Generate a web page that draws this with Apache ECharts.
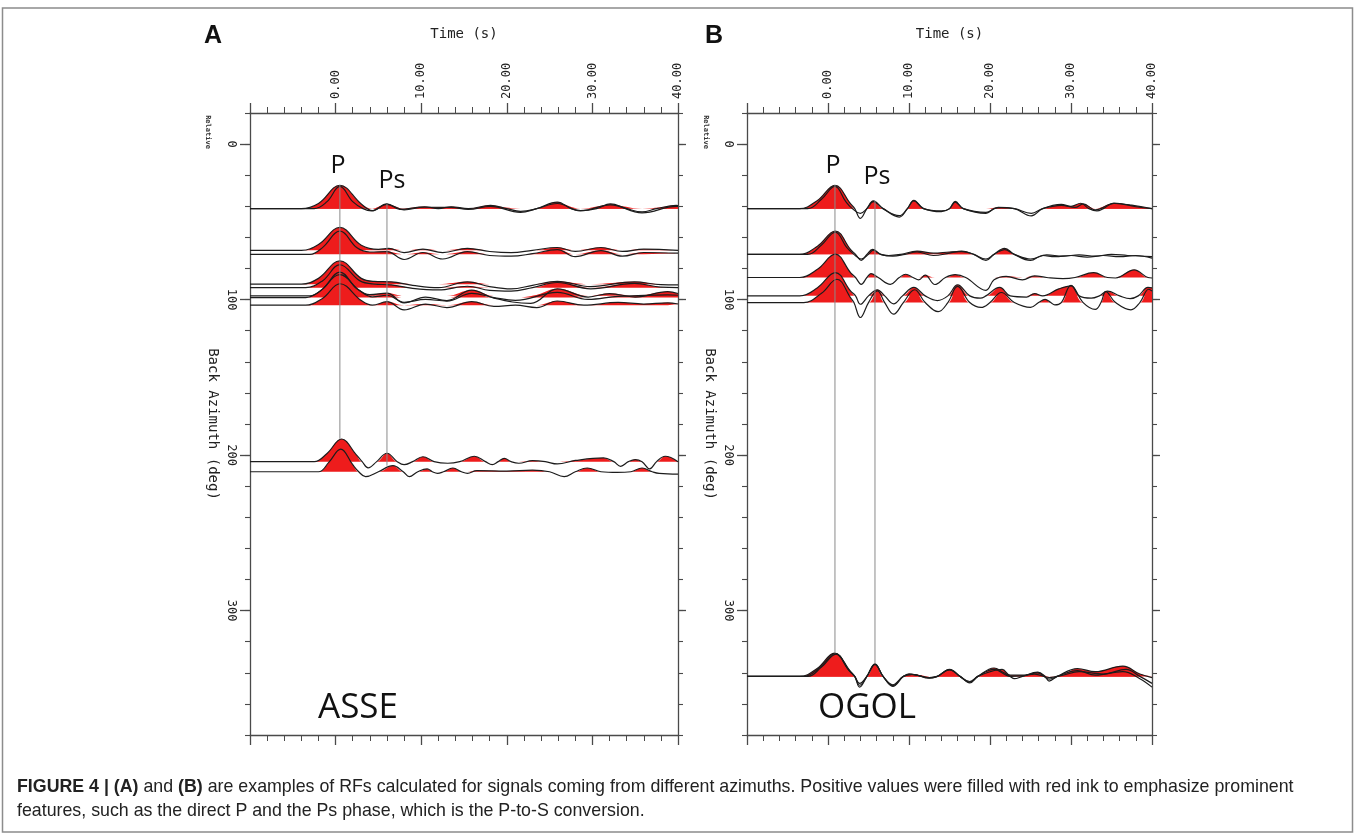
<!DOCTYPE html>
<html>
<head>
<meta charset="utf-8">
<script src="https://cdn.jsdelivr.net/npm/echarts@6/dist/echarts.min.js"></script>
<style>
  html, body { margin: 0; background: #fff; }
  #chart { width: 1355px; height: 837px; }
</style>
</head>
<body>
<div id="chart"></div>
<script>
// tick labels
const timeTicks = [0, 10, 20, 30, 40];
const bazTicks = [0, 100, 200, 300];

// ASSE: back azimuth of each trace (deg) and the traces as [time s, relative amplitude]
const asseBaz = [41.5, 41.5, 68.3, 70.9, 90.1, 92.3, 97.6, 98.7, 103.6, 204.2, 210.7];
const asse1 = [[-10,0],[-4,0],[-2,0.22],[0.5,1.0],[3,0.2],[4.3,-0.08],[6,0.2],[7.5,-0.03],[10.4,0.08],[12,0],[13.5,0.08],[15.5,0],[18.1,0.14],[20,0],[21.6,-0.12],[23.5,0],[25.9,0.28],[27.5,0],[28.6,-0.08],[30.5,0],[32.1,0.2],[34,0],[35.8,-0.14],[37.5,0],[39.8,0.14],[40,0.13]];
const asse2 = [[-10,0],[-2.5,0],[-1,0.3],[0.5,0.95],[2,0.3],[3.2,0],[4.2,-0.1],[6,0.18],[8,-0.05],[10.4,0.06],[13.5,0.05],[15.5,-0.03],[18.1,0.1],[21.6,-0.16],[23.5,0],[25.9,0.22],[28.6,-0.1],[32.1,0.16],[35.8,-0.18],[39.8,0.1],[40,0.1]];
const asse3 = [[-10,0],[-4,0],[-2,0.25],[0.5,0.98],[3,0.22],[5,0.04],[6.2,0.08],[8,-0.1],[10.2,0.05],[12.5,-0.1],[15.4,0.08],[18,-0.05],[20.5,-0.1],[23,0],[25.9,0.12],[28,-0.05],[31,0.12],[33.5,-0.05],[36,0.05],[40,0]];
const asse4 = [[-10,0],[-3,0],[-1.5,0.3],[0.5,1.0],[2.5,0.28],[4,0.1],[6,0.12],[8,-0.22],[10.2,0.08],[12.5,-0.2],[15.4,0.12],[18,-0.05],[20.5,-0.08],[23,0.03],[25.9,0.2],[28,-0.1],[31,0.16],[33.5,-0.08],[36,0.08],[40,0.05]];
const asse5 = [[-10,0],[-4,0],[-2,0.25],[0.5,1.0],[3,0.25],[4.5,0.12],[6.5,0.1],[9,-0.05],[12,-0.15],[15.4,0.1],[18,-0.1],[20.5,-0.2],[23,-0.05],[25.9,0.12],[29.8,-0.1],[34.9,0.1],[38,-0.02],[40,-0.03]];
const asse6 = [[-10,0],[-3.5,0],[-1.5,0.3],[0.5,0.98],[2.8,0.3],[4.5,0.15],[6.5,0.12],[9,-0.03],[12,-0.1],[15.4,0.06],[18,-0.12],[20.5,-0.15],[23,0],[25.9,0.22],[29.8,-0.05],[34.9,0.18],[38,0.02],[40,0]];
const asse7 = [[-10,0],[-3,0],[-1.5,0.3],[0.5,1.02],[2.5,0.3],[4,0.05],[6,0.12],[8,-0.3],[10.5,-0.05],[13,-0.2],[15.9,0.25],[18.5,-0.1],[22.8,-0.32],[25.9,0.3],[29.5,-0.05],[32,0.1],[35,-0.05],[38.8,0.18],[40,0.1]];
const asse8 = [[-10,0],[-3.5,0],[-1.8,0.28],[0.5,0.98],[2.8,0.3],[4.3,0.03],[6,0.1],[8,-0.2],[10.5,-0.08],[13,-0.15],[15.9,0.18],[18.5,0],[21,-0.12],[25.9,0.22],[29.5,-0.08],[33,0.05],[38.8,0.12],[40,0.1]];
const asse9 = [[-10,0],[-3.5,0],[-1.5,0.3],[0.5,0.92],[3,0.2],[4.3,0],[6,0.15],[8,-0.2],[10.5,0.05],[13,-0.1],[15.9,0.15],[18.5,-0.05],[21,0],[23.5,-0.1],[25.9,0.18],[29,0],[33,0.12],[36,0.05],[38.8,0.1],[40,0.05]];
const asse10 = [[-10,0],[-2.5,0],[-1,0.35],[0.7,0.97],[2.4,0.3],[3.1,0],[3.8,-0.27],[4.8,0],[6,0.36],[7.2,0],[8,-0.13],[9,0],[10.2,0.21],[11.5,0],[13.1,-0.07],[14.5,0],[16.2,0.23],[17.5,0],[18.3,-0.13],[19,0],[19.7,0.14],[20.5,0],[21.4,-0.07],[23,0.04],[24.5,0],[25.9,-0.1],[28,0.05],[31.3,0.16],[32.5,0],[33.3,-0.2],[34.2,0],[35,0.09],[35.8,0],[36.7,-0.31],[37.5,0],[38.5,0.23],[40,0]];
const asse11 = [[-10,0],[-2,0],[-0.8,0.4],[0.6,0.97],[2,0.3],[2.7,0],[3.5,-0.21],[5,0],[6.7,0.26],[7.9,0],[8.6,-0.21],[9.6,0],[10.7,0.12],[11.3,0],[11.9,-0.07],[12.6,0],[13.7,0.16],[14.7,0],[15.4,-0.07],[16.5,0.05],[20,0.03],[23,0.07],[25,0],[26.7,-0.21],[28,0],[29.4,0.16],[31,0],[32.9,-0.03],[34.5,0],[35.8,0.16],[37,0],[37.8,-0.07],[40,-0.1]];
const asseTraces = [asse1, asse2, asse3, asse4, asse5, asse6, asse7, asse8, asse9, asse10, asse11];

// OGOL
const ogolBaz = [41.5, 41.5, 70.9, 70.9, 85.8, 97.6, 101.9, 342.3, 342.3, 342.3];
const ogol1 = [[-10,0],[-3.5,0],[-1.3,0.35],[0.86,1.0],[2.8,0.2],[3.3,0],[4,-0.42],[4.8,0],[5.6,0.33],[6.8,0],[8.8,-0.36],[9.8,0],[10.6,0.36],[11.8,0],[14,-0.13],[15,0],[15.7,0.31],[16.7,0],[19.5,-0.2],[20.5,0],[21.4,0.04],[23,0],[25.1,-0.31],[26.5,0],[28.8,0.18],[30,0.1],[31.2,0.23],[32.2,0],[33.2,-0.1],[34,0],[35.3,0.24],[38,0.08],[40,0]];
const ogol2 = [[-10,0],[-2.5,0],[-0.8,0.4],[0.86,0.95],[2.2,0.3],[3,0],[4,-0.2],[4.8,0],[5.6,0.3],[6.8,0],[8.8,-0.3],[9.8,0],[10.6,0.33],[11.8,0],[14,-0.1],[15,0],[15.7,0.28],[16.7,0],[19.5,-0.16],[21,0.05],[23,0],[25.1,-0.2],[26.5,0],[28.8,0.14],[30.5,0.05],[31.5,0.2],[33,-0.05],[35.3,0.22],[37.5,0.15],[40,0]];
const ogol3 = [[-10,0],[-3.5,0],[-1.3,0.35],[0.9,1.0],[2.8,0.2],[3.4,0],[4.1,-0.26],[4.8,0],[5.5,0.21],[6.5,0],[7.5,-0.05],[9,0],[11,0.14],[13,0.05],[15,0.1],[16.5,0.12],[18,0],[19.5,-0.26],[20.5,0],[21.8,0.26],[23,0],[25,-0.26],[26.5,-0.05],[28,-0.1],[30,-0.05],[32,-0.12],[34,-0.05],[36,-0.1],[38,-0.05],[40,-0.16]];
const ogol4 = [[-10,0],[-2.5,0],[-0.8,0.4],[0.9,0.95],[2.3,0.3],[3.2,0],[4.1,-0.2],[5,0],[5.6,0.18],[6.5,0],[8,-0.08],[9.5,0],[11,0.1],[13,-0.05],[15,0.05],[16.5,0.14],[18,0],[19.5,-0.2],[20.5,0],[21.8,0.2],[23,0],[25,-0.2],[27,-0.02],[29,-0.08],[31,-0.02],[33,-0.08],[35,0],[37,-0.05],[40,-0.1]];
const ogol5 = [[-10,0],[-3.5,0],[-1.3,0.35],[0.9,1.0],[2.8,0.2],[3.4,0],[4.1,-0.29],[4.8,0],[5.3,0.17],[6.2,0],[7.7,-0.29],[8.8,0],[9.6,0.14],[10.5,0],[11.2,-0.1],[12,0.1],[13.2,-0.3],[14.5,0],[15.7,0.12],[17,0],[19.5,-0.55],[20.5,-0.1],[22,0.05],[24,-0.1],[25.5,0.07],[27,0],[29,-0.05],[30.5,0],[32.8,0.21],[34.5,0],[35.5,-0.02],[37.8,0.33],[39.5,0],[40,-0.02]];
const ogol6 = [[-10,0],[-3.5,0],[-1.3,0.35],[0.9,1.0],[2.8,0.2],[3.4,0],[4,-0.36],[5,0],[6.1,0.26],[7,0],[8.1,-0.34],[9.2,0],[10.6,0.36],[12,0],[13.5,-0.2],[14.8,0],[16,0.47],[17.5,0],[18.8,-0.1],[19.5,0],[21.2,0.36],[22.5,0],[24.5,-0.05],[25.5,0.1],[26.5,0],[28.5,0.3],[30,0.43],[31,0],[32.5,-0.1],[33.5,0],[34.5,0.2],[36,0],[37.3,-0.12],[38.3,0],[39.5,0.36],[40,0.34]];
const ogol7 = [[-10,0],[-3,0],[-0.8,0.4],[1.1,1.0],[2.8,0.2],[3.2,0],[4,-0.64],[5,0],[6.1,0.5],[7,0],[8.1,-0.5],[9.3,0],[10.7,0.55],[12,0],[13.6,-0.39],[14.8,0],[16,0.69],[17.5,0],[18.9,-0.21],[20,0],[21.4,0.43],[23,0],[25,-0.21],[26,0],[26.8,0.14],[27.5,0],[28,-0.1],[28.8,0],[30,0.74],[31.5,0],[33,-0.29],[33.7,0],[34.3,0.47],[35.5,0],[37.4,-0.31],[38.5,0],[39.6,0.57],[40,0.5]];
const ogol8 = [[-10,0],[-3.5,0],[-1.3,0.35],[0.8,1.0],[2.8,0.2],[3.3,0],[3.9,-0.46],[4.8,0],[5.8,0.54],[6.8,0],[8,-0.43],[9.3,0],[10,0.11],[11,0.05],[12.5,-0.05],[13.5,0],[15,0.3],[16.3,0],[17.5,-0.28],[18.5,0],[20.5,0.36],[21.5,0.2],[22.5,0],[23,-0.1],[24,0],[25.9,0.18],[26.8,0],[27.3,-0.2],[28.3,0],[30.8,0.33],[33,0.2],[36.4,0.44],[38.5,0.1],[40,-0.05]];
const ogol9 = [[-10,0],[-2.5,0],[-0.8,0.4],[1,0.95],[2.5,0.3],[3.3,0],[3.9,-0.3],[4.8,0],[5.8,0.5],[6.8,0],[8,-0.36],[9.3,0],[10.5,0.08],[12.5,-0.08],[13.5,0],[15,0.28],[16.3,0],[17.5,-0.22],[18.5,0],[20,0.2],[21.5,0.3],[22.5,0.05],[24,0.05],[25.5,0.1],[27.3,-0.05],[29,0.05],[31,0.2],[34,0.1],[36.8,0.3],[38.5,0],[40,-0.3]];
const ogol10 = [[-10,0],[-3,0],[-1,0.38],[0.9,0.98],[2.6,0.25],[3.3,0],[3.9,-0.38],[4.8,0],[5.8,0.52],[6.8,0],[8,-0.4],[9.3,0],[10.3,0.09],[12.5,-0.06],[13.5,0],[15,0.29],[16.3,0],[17.5,-0.25],[18.5,0],[20.5,0.3],[22.5,0],[24,0.02],[25.9,0.15],[27.3,-0.12],[28.3,0],[30.8,0.25],[33,0.05],[36.4,0.2],[38.5,-0.1],[40,-0.46]];
const ogolTraces = [ogol1, ogol2, ogol3, ogol4, ogol5, ogol6, ogol7, ogol8, ogol9, ogol10];

// P and Ps phase lines: [time, baz from], [time, baz to]
const asseP = [[0.5, 26.3], [0.5, 189.5]];
const assePs = [[6.0, 38.5], [6.0, 206.8]];
const ogolP = [[0.86, 26.3], [0.86, 327.5]];
const ogolPs = [[5.8, 36.6], [5.8, 334]];

const AMP = 15; // deg per unit of relative amplitude

const frame = '#4a4a4a';
const mono = 'DejaVu Sans Mono';

function xAxes(gi) {
  const base = {
    type: 'value', gridIndex: gi, min: -10, max: 40, interval: 10,
    axisLine: { show: true, onZero: false, lineStyle: { color: frame, width: 1.3 } },
    axisTick: { show: true, inside: false, length: 10, lineStyle: { color: frame, width: 1.3 } },
    minorTick: { show: true, splitNumber: 5, length: 6, lineStyle: { color: frame, width: 1 } },
    splitLine: { show: false }
  };
  return [
    Object.assign({}, base, {
      position: 'top',
      axisLabel: {
        rotate: -90, margin: 14, fontFamily: mono, fontSize: 12, color: '#222',
        formatter: v => timeTicks.includes(v) ? v.toFixed(2) : ''
      },
      name: 'Time (s)', nameLocation: 'middle', nameGap: 72,
      nameTextStyle: { fontFamily: mono, fontSize: 14, color: '#222' }
    }),
    Object.assign({}, base, { position: 'bottom', axisLabel: { show: false } })
  ];
}

function yAxes(gi) {
  const base = {
    type: 'value', gridIndex: gi, min: -20, max: 380, inverse: true,
    splitLine: { show: false }
  };
  const minor = Object.assign({}, base, {
    interval: 20,
    axisLine: { show: true, onZero: false, lineStyle: { color: frame, width: 1.3 } },
    axisTick: { show: true, inside: false, length: 5, lineStyle: { color: frame, width: 1.1 } },
    axisLabel: { show: false }
  });
  const major = Object.assign({}, base, {
    axisLine: { show: false, onZero: false },
    axisTick: { show: true, inside: false, length: 10, customValues: bazTicks, lineStyle: { color: frame, width: 1.3 } },
    axisLabel: { show: false }
  });
  return [
    Object.assign({}, minor, { position: 'left' }),
    Object.assign({}, major, {
      position: 'left',
      axisLabel: { show: true, customValues: bazTicks, rotate: -90, margin: 13, fontFamily: mono, fontSize: 12, color: '#222' },
      name: 'Back Azimuth (deg)', nameLocation: 'middle', nameGap: 30, nameRotate: -90,
      nameTextStyle: { fontFamily: mono, fontSize: 14, color: '#222' }
    }),
    Object.assign({}, minor, { position: 'right' }),
    Object.assign({}, major, { position: 'right', axisTick: Object.assign({}, major.axisTick, { length: 8 }) })
  ];
}

function traceSeries(traces, bazList, gi) {
  const fills = [], lines = [];
  traces.forEach((tr, i) => {
    const b = bazList[i];
    const common = {
      type: 'line', xAxisIndex: gi * 2, yAxisIndex: gi * 4, smooth: 0.4,
      symbol: 'none', silent: true, animation: false
    };
    fills.push(Object.assign({}, common, {
      data: tr.map(p => [p[0], b - Math.max(p[1], 0) * AMP]),
      lineStyle: { width: 0 },
      areaStyle: { color: '#ee1c1c', opacity: 1, origin: b },
      z: 1
    }));
    lines.push(Object.assign({}, common, {
      data: tr.map(p => [p[0], b - p[1] * AMP]),
      lineStyle: { color: '#1c1c1c', width: 1.2 },
      z: 3
    }));
  });
  return fills.concat(lines);
}

function phaseLine(pts, gi) {
  return {
    type: 'line', xAxisIndex: gi * 2, yAxisIndex: gi * 4, data: pts, symbol: 'none',
    silent: true, lineStyle: { color: '#8a8a8a', width: 1 }, z: 4
  };
}

const chart = echarts.init(document.getElementById('chart'));

const captionFont = 'Liberation Sans';

chart.setOption({
  animation: false,
  backgroundColor: '#fff',
  grid: [
    { left: 250, right: 677, top: 113, bottom: 102 },
    { left: 747, right: 203, top: 113, bottom: 102 }
  ],
  xAxis: xAxes(0).concat(xAxes(1)),
  yAxis: yAxes(0).concat(yAxes(1)),
  series: [].concat(
    traceSeries(asseTraces, asseBaz, 0),
    traceSeries(ogolTraces, ogolBaz, 1),
    [phaseLine(asseP, 0), phaseLine(assePs, 0), phaseLine(ogolP, 1), phaseLine(ogolPs, 1)]
  ),
  graphic: [
    { type: 'rect', shape: { x: 2.5, y: 8, width: 1350, height: 824 }, style: { fill: 'none', stroke: '#8c8c8c', lineWidth: 1.5 }, silent: true },
    { type: 'text', x: 213, y: 36, style: { text: 'A', font: 'bold 25px Liberation Sans', fill: '#111', textAlign: 'center', textVerticalAlign: 'middle' } },
    { type: 'text', x: 714, y: 36, style: { text: 'B', font: 'bold 25px Liberation Sans', fill: '#111', textAlign: 'center', textVerticalAlign: 'middle' } },
    { type: 'text', x: 208, y: 132, rotation: -Math.PI / 2, style: { text: 'Relative', font: 'bold 7px DejaVu Sans Mono', fill: '#333', textAlign: 'center', textVerticalAlign: 'middle' } },
    { type: 'text', x: 706, y: 132, rotation: -Math.PI / 2, style: { text: 'Relative', font: 'bold 7px DejaVu Sans Mono', fill: '#333', textAlign: 'center', textVerticalAlign: 'middle' } },
    { type: 'text', x: 338, y: 166, style: { text: 'P', font: '25px Open Sans', fill: '#111', textAlign: 'center', textVerticalAlign: 'middle' } },
    { type: 'text', x: 392, y: 181, style: { text: 'Ps', font: '25px Open Sans', fill: '#111', textAlign: 'center', textVerticalAlign: 'middle' } },
    { type: 'text', x: 833, y: 166, style: { text: 'P', font: '25px Open Sans', fill: '#111', textAlign: 'center', textVerticalAlign: 'middle' } },
    { type: 'text', x: 877, y: 177, style: { text: 'Ps', font: '25px Open Sans', fill: '#111', textAlign: 'center', textVerticalAlign: 'middle' } },
    { type: 'text', x: 358, y: 708, style: { text: 'ASSE', font: '35px Open Sans', fill: '#111', textAlign: 'center', textVerticalAlign: 'middle' } },
    { type: 'text', x: 867, y: 708, style: { text: 'OGOL', font: '35px Open Sans', fill: '#111', textAlign: 'center', textVerticalAlign: 'middle' } },
    {
      type: 'text', x: 17, y: 787,
      style: {
        text: '{b|FIGURE 4 | (A)} and {b|(B)} are examples of RFs calculated for signals coming from different azimuths. Positive values were filled with red ink to emphasize prominent',
        font: '17.8px ' + captionFont, fill: '#222', textVerticalAlign: 'middle',
        rich: { b: { fontWeight: 'bold', fontSize: 17.8, fontFamily: captionFont } }
      }
    },
    {
      type: 'text', x: 17, y: 811,
      style: { text: 'features, such as the direct P and the Ps phase, which is the P-to-S conversion.', font: '17.8px ' + captionFont, fill: '#222', textVerticalAlign: 'middle' }
    }
  ]
});
</script>
</body>
</html>
